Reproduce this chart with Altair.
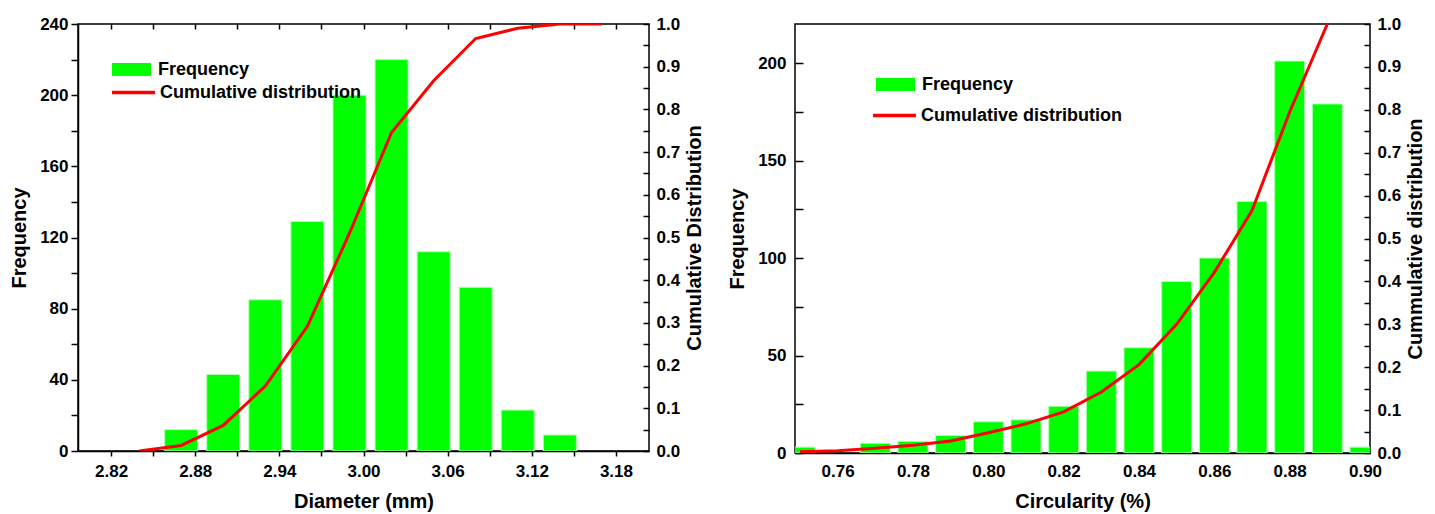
import altair as alt
import pandas as pd

# ---------------- data ----------------
# Left panel: diameter histogram
dia_centers = [2.87, 2.90, 2.93, 2.96, 2.99, 3.02, 3.05, 3.08, 3.11, 3.14]
dia_freq = [12, 43, 85, 129, 200, 220, 112, 92, 23, 9]
dia_cum_x = [2.84, 2.87, 2.90, 2.93, 2.96, 2.99, 3.02, 3.05, 3.08, 3.11, 3.14, 3.17]
dia_cum = [0.0, 0.013, 0.06, 0.152, 0.292, 0.51, 0.746, 0.867, 0.966, 0.99, 1.0, 1.0]

# Right panel: circularity histogram
cir_centers = [0.75, 0.77, 0.78, 0.79, 0.80, 0.81, 0.82, 0.83, 0.84, 0.85, 0.86, 0.87, 0.88, 0.89, 0.90]
cir_freq = [3, 5, 6, 9, 16, 17, 24, 42, 54, 88, 100, 129, 201, 179, 3]
cir_cum_x = [0.75, 0.76, 0.77, 0.78, 0.79, 0.80, 0.81, 0.82, 0.83, 0.84, 0.85, 0.86, 0.87, 0.88, 0.89]
cir_cum = [0.003, 0.005, 0.011, 0.018, 0.028, 0.047, 0.068, 0.096, 0.142, 0.206, 0.300, 0.421, 0.565, 0.795, 1.0]

# Tick values
dia_x_ticks = [2.82, 2.85, 2.88, 2.91, 2.94, 2.97, 3.00, 3.03, 3.06, 3.09, 3.12, 3.15, 3.18]
dia_y_ticks = [0, 20, 40, 60, 80, 100, 120, 140, 160, 180, 200, 220, 240]
cum_ticks = [0.0, 0.05, 0.1, 0.15, 0.2, 0.25, 0.3, 0.35, 0.4, 0.45, 0.5,
             0.55, 0.6, 0.65, 0.7, 0.75, 0.8, 0.85, 0.9, 0.95, 1.0]
cir_x_ticks = [0.76, 0.78, 0.80, 0.82, 0.84, 0.86, 0.88, 0.90]
cir_y_ticks = [0, 25, 50, 75, 100, 125, 150, 175, 200]

FONT = "Liberation Sans, Arial, sans-serif"
GREEN = "#00ff00"
RED = "#ff0000"
RECT_SYMBOL = "M-1,-0.33L1,-0.33L1,0.33L-1,0.33Z"

cum_label = "round(datum.value*100) % 10 == 0 ? format(datum.value, '.1f') : ''"


def legend_fill(x, y):
    return alt.Legend(orient="none", legendX=x, legendY=y, title=None,
                      symbolType=RECT_SYMBOL, symbolSize=1521, symbolStrokeWidth=0,
                      labelFont=FONT, labelFontSize=18, labelFontWeight="bold",
                      labelColor="black", labelOffset=7, labelLimit=0, padding=0)


def legend_stroke(x, y):
    return alt.Legend(orient="none", legendX=x, legendY=y, title=None,
                      symbolType="stroke", symbolSize=1849, symbolStrokeWidth=3.5,
                      labelFont=FONT, labelFontSize=18, labelFontWeight="bold",
                      labelColor="black", labelOffset=3, labelLimit=0, padding=0)


# ---------------- left panel ----------------
df_db = pd.DataFrame({"d": dia_centers, "f": dia_freq})
df_dc = pd.DataFrame({"d": dia_cum_x, "c": dia_cum})
x_dia = alt.Scale(domain=[2.80, 3.20], nice=False, zero=False)

bars_l = alt.Chart(df_db).transform_calculate(s="'Frequency'").mark_bar(
    size=33, stroke="#b0ffb0", strokeWidth=1, clip=True
).encode(
    x=alt.X("d:Q", scale=x_dia, axis=alt.Axis(
        values=dia_x_ticks,
        labelExpr="round(datum.value*100 - 282) % 6 == 0 ? format(datum.value, '.2f') : ''",
        tickSize=5, labelPadding=7, title="Diameter (mm)", titlePadding=12)),
    y=alt.Y("f:Q", scale=alt.Scale(domain=[0, 240], nice=False), axis=alt.Axis(
        orient="left", values=dia_y_ticks,
        labelExpr="datum.value % 40 == 0 ? datum.label : ''",
        tickSize=7, labelPadding=3, title="Frequency", titlePadding=10)),
    fill=alt.Fill("s:N", scale=alt.Scale(domain=["Frequency"], range=[GREEN]),
                  legend=legend_fill(34, 26)),
)

line_l = alt.Chart(df_dc).transform_calculate(s="'Cumulative distribution'").mark_line(
    strokeWidth=3, clip=True
).encode(
    x=alt.X("d:Q", scale=x_dia, axis=alt.Axis(
        orient="top", values=dia_x_ticks, labels=False, tickSize=5, offset=-5,
        domain=False, title=None)),
    y=alt.Y("c:Q", scale=alt.Scale(domain=[0, 1], nice=False), axis=alt.Axis(
        orient="right", values=cum_ticks, labelExpr=cum_label, tickSize=6, offset=-6,
        domain=False, labelPadding=7, title="Cumulative Distribution", titlePadding=5,
        titleAngle=270, titleBaseline="top")),
    stroke=alt.Stroke("s:N", scale=alt.Scale(domain=["Cumulative distribution"], range=[RED]),
                      legend=legend_stroke(32, 45)),
)

left = alt.layer(bars_l, line_l).resolve_scale(y="independent").resolve_axis(
    x="independent").properties(width=571, height=427)

# ---------------- right panel ----------------
df_cb = pd.DataFrame({"d": cir_centers, "f": cir_freq})
df_cc = pd.DataFrame({"d": cir_cum_x, "c": cir_cum})
x_cir = alt.Scale(domain=[0.75, 0.90], nice=False, zero=False)

bars_r = alt.Chart(df_cb).transform_calculate(s="'Frequency'").mark_bar(
    size=30, stroke="#b0ffb0", strokeWidth=1, clip=True
).encode(
    x=alt.X("d:Q", scale=x_cir, axis=alt.Axis(
        values=cir_x_ticks, format=".2f", ticks=False, labelPadding=10,
        title="Circularity (%)", titlePadding=12)),
    y=alt.Y("f:Q", scale=alt.Scale(domain=[0, 220], nice=False), axis=alt.Axis(
        orient="left", values=cir_y_ticks,
        labelExpr="datum.value % 50 == 0 ? datum.label : ''",
        tickSize=8, offset=-8, domain=False, labelPadding=9,
        title="Frequency", titlePadding=10)),
    fill=alt.Fill("s:N", scale=alt.Scale(domain=["Frequency"], range=[GREEN]),
                  legend=legend_fill(81, 41)),
)

line_r = alt.Chart(df_cc).transform_calculate(s="'Cumulative distribution'").mark_line(
    strokeWidth=3, clip=True
).encode(
    x=alt.X("d:Q", scale=x_cir),
    y=alt.Y("c:Q", scale=alt.Scale(domain=[0, 1], nice=False), axis=alt.Axis(
        orient="right", values=cum_ticks, labelExpr=cum_label, tickSize=6, offset=-6,
        domain=False, labelPadding=7, title="Cummulative distribution", titlePadding=5,
        titleAngle=270, titleBaseline="top")),
    stroke=alt.Stroke("s:N", scale=alt.Scale(domain=["Cumulative distribution"], range=[RED]),
                      legend=legend_stroke(76, 68)),
)

right = alt.layer(bars_r, line_r).resolve_scale(y="independent").properties(
    width=575, height=429)

chart = alt.hconcat(left, right, spacing=20).resolve_scale(
    fill="independent", stroke="independent"
).configure_view(
    stroke="black", strokeWidth=1.5
).configure_axis(
    labelFont=FONT, labelFontSize=17, labelFontWeight="bold", labelColor="black",
    titleFont=FONT, titleFontSize=20, titleFontWeight="bold", titleColor="black",
    domainColor="black", domainWidth=1.5, tickColor="black", tickWidth=1.5,
    grid=False, labelOverlap=False, labelFlush=False, zindex=1
).properties(
    padding={"left": 0, "top": 6, "right": 0, "bottom": 0}
)

chart.save("out.html", embed_options={"renderer": "svg", "actions": False})
